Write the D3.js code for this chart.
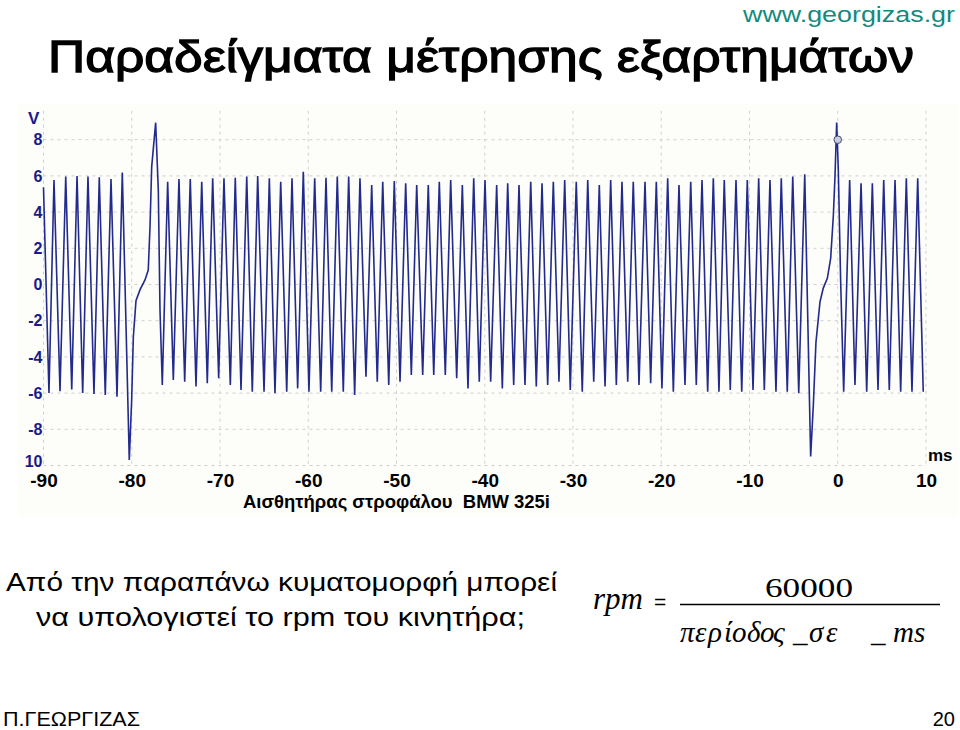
<!DOCTYPE html>
<html>
<head>
<meta charset="utf-8">
<script src="https://cdn.jsdelivr.net/npm/d3@7/dist/d3.min.js"></script>
<style>
  html, body { margin: 0; padding: 0; background: #ffffff; }
  svg { display: block; }
  .sans { font-family: "Liberation Sans", Arial, sans-serif; }
  .serif { font-family: "Liberation Serif", "Times New Roman", serif; }
</style>
</head>
<body>
<svg id="chart" width="960" height="730"></svg>
<script>
// ---------------- DATA ----------------
const xTickValues = [-90, -80, -70, -60, -50, -40, -30, -20, -10, 0, 10];
const xTickLabels = ["-90", "-80", "-70", "-60", "-50", "-40", "-30", "-20", "-10", "0", "10"];
const yTickValues = [8, 6, 4, 2, 0, -2, -4, -6, -8, -10];
const yTickLabels = ["8", "6", "4", "2", "0", "-2", "-4", "-6", "-8", "10"];

// Crankshaft sensor trace: vertices (time in ms, voltage in V)
const traceMs = [
  -90.00, -89.38, -88.81, -88.13, -87.48, -86.80, -86.20, -85.56, -84.96, -84.28,
  -83.68, -83.00, -82.35, -81.67, -81.07, -80.28,
  -80.01, -79.82, -79.52, -79.07, -78.50, -78.13, -77.93, -77.74, -77.29, -76.99, -76.80, -76.54,
  -75.93, -75.29, -74.65, -74.00, -73.37, -72.72, -72.07, -71.44, -70.83, -70.15,
  -69.55, -68.83, -68.27, -67.62, -66.97, -66.34, -65.73, -65.01, -64.41, -63.77,
  -63.12, -62.44, -61.84, -61.20, -60.56, -59.92, -59.27, -58.59, -57.99, -57.34,
  -56.71, -56.03, -55.42, -54.74, -54.14, -53.46, -52.81, -52.18, -51.56, -50.88,
  -50.25, -49.60, -48.96, -48.32, -47.71, -47.03, -46.40, -45.78, -45.15, -44.47,
  -43.86, -43.18, -42.54, -41.90, -41.25, -40.62, -39.97, -39.33, -38.65, -38.01,
  -37.40, -36.72, -36.12, -35.44, -34.79, -34.16, -33.51, -32.87, -32.23, -31.59,
  -30.94, -30.31, -29.63, -28.95, -28.33, -27.65, -27.02, -26.37, -25.73, -25.09,
  -24.45, -23.80, -23.17, -22.52, -21.84, -21.20, -20.56, -19.92, -19.27, -18.63,
  -17.99, -17.31, -16.66, -16.03, -15.38, -14.74, -14.10, -13.46, -12.86, -12.18,
  -11.53, -10.88, -10.25, -9.60, -8.96, -8.32, -7.68, -7.00, -6.40, -5.72,
  -5.10, -4.42, -3.74, -3.07,
  -2.77, -2.47, -2.01, -1.64, -1.18, -0.80, -0.50, -0.31, -0.12, 0.06, 0.33, 0.67,
  1.35, 1.95, 2.64, 3.28, 3.92, 4.56, 5.21, 5.84, 6.49, 7.13, 7.77, 8.41, 9.06, 9.69
];
const traceV = [
  5.37, -6.00, 5.77, -5.90, 5.96, -5.80, 5.99, -6.00, 5.96, -6.05,
  5.92, -6.10, 5.83, -6.20, 6.18, -9.70,
  -6.40, -2.90, -0.90, -0.30, 0.25, 0.80, 3.20, 6.50, 8.94, 5.20, -1.40, -5.55,
  5.68, -5.28, 5.83, -5.37, 5.83, -5.64, 5.68, -5.46, 5.87, -5.18,
  5.87, -5.55, 5.90, -5.83, 5.96, -5.92, 5.99, -5.92, 5.87, -6.01,
  5.68, -5.92, 5.87, -5.74, 6.23, -5.92, 5.87, -5.92, 5.90, -5.92,
  5.96, -5.92, 5.96, -6.10, 5.87, -5.09, 5.50, -5.37, 5.68, -5.55,
  5.72, -5.37, 5.59, -5.00, 5.50, -5.00, 5.50, -5.00, 5.68, -5.00,
  5.77, -5.18, 5.50, -5.74, 5.87, -5.37, 5.77, -5.37, 5.50, -5.74,
  5.59, -5.55, 5.50, -5.55, 5.68, -5.64, 5.59, -5.55, 5.68, -5.37,
  5.77, -5.83, 5.68, -5.92, 5.77, -5.37, 5.50, -5.64, 5.77, -5.55,
  5.68, -5.37, 5.68, -5.55, 5.68, -5.46, 5.68, -5.74, 5.87, -5.92,
  5.50, -5.55, 5.68, -5.55, 5.77, -5.92, 5.87, -5.92, 5.77, -5.83,
  5.77, -5.92, 5.77, -5.83, 5.87, -5.83, 5.77, -5.92, 5.87, -5.92,
  5.96, -6.01, 6.09, -9.50,
  -6.70, -3.20, -0.95, -0.20, 0.34, 1.46, 3.80, 6.00, 8.95, 6.40, 0.15, -5.92,
  5.77, -5.55, 5.59, -5.92, 5.59, -5.83, 5.77, -5.83, 5.77, -5.92, 5.87, -5.92, 5.87, -5.92
];
const cursorMs = [0];
const cursorV = [8];

// ---------------- DRAW ----------------
const svg = d3.select("#chart");

const x = d3.scaleLinear().domain([-90, 10]).range([43.5, 926]);
const y = d3.scaleLinear().domain([-10, 10]).range([465.5, 103.5]);

// Header
svg.append("text").attr("class", "sans")
  .attr("x", 955).attr("y", 22).attr("text-anchor", "end")
  .attr("font-size", 22).attr("fill", "#138a7e")
  .attr("textLength", 212).attr("lengthAdjust", "spacingAndGlyphs")
  .text("www.georgizas.gr");

svg.append("text").attr("class", "sans")
  .attr("x", 48).attr("y", 72)
  .attr("font-size", 45).attr("fill", "#000").attr("stroke", "#000").attr("stroke-width", 1.3)
  .attr("textLength", 866).attr("lengthAdjust", "spacingAndGlyphs")
  .text("Παραδείγματα μέτρησης εξαρτημάτων");

// Plot background (scope screenshot)
svg.append("rect").attr("x", 18).attr("y", 104).attr("width", 940).attr("height", 412)
  .attr("fill", "#fdfdf9");

// Grid
const gridColor = "#cfcfcf";
svg.append("g").selectAll("line.h").data(yTickValues).join("line")
  .attr("x1", x(-90)).attr("x2", x(10))
  .attr("y1", d => y(d)).attr("y2", d => y(d))
  .attr("stroke", gridColor).attr("stroke-width", 1).attr("stroke-dasharray", "3,4");
svg.append("g").selectAll("line.v").data(xTickValues).join("line")
  .attr("x1", d => x(d)).attr("x2", d => x(d))
  .attr("y1", y(9.6)).attr("y2", y(-10))
  .attr("stroke", gridColor).attr("stroke-width", 1).attr("stroke-dasharray", "3,4");

// Y axis
const yAxis = d3.axisLeft(y).tickValues(yTickValues)
  .tickFormat((d, i) => yTickLabels[i]).tickSize(0).tickPadding(1);
const gy = svg.append("g").attr("transform", `translate(${x(-90)},0)`).call(yAxis);
gy.select(".domain").remove();
gy.selectAll("text").attr("class", "sans").attr("font-size", 16).attr("font-weight", "bold")
  .attr("fill", "#1a1a8a");
gy.selectAll("text").filter((d) => d === -10).attr("dy", "0.05em");

// X axis
const xAxis = d3.axisBottom(x).tickValues(xTickValues)
  .tickFormat((d, i) => xTickLabels[i]).tickSize(0).tickPadding(8);
const gx = svg.append("g").attr("transform", `translate(0,${y(-10)})`).call(xAxis);
gx.select(".domain").remove();
gx.selectAll("text").attr("class", "sans").attr("font-size", 19).attr("font-weight", "bold")
  .attr("fill", "#000");

// Axis unit labels
svg.append("text").attr("class", "sans").attr("x", 28).attr("y", 124)
  .attr("font-size", 17).attr("font-weight", "bold").attr("fill", "#1a1a8a").text("V");
svg.append("text").attr("class", "sans").attr("x", 928).attr("y", 461)
  .attr("font-size", 17).attr("font-weight", "bold").attr("fill", "#000").text("ms");

// Trace
const pts = traceMs.map((t, i) => [t, traceV[i]]);
const line = d3.line().x(d => x(d[0])).y(d => y(d[1]));
svg.append("path").datum(pts)
  .attr("d", line).attr("fill", "none")
  .attr("stroke", "#222a8c").attr("stroke-width", 1.6).attr("stroke-linejoin", "miter");

// Cursor marker
svg.append("g").selectAll("circle").data(cursorMs.map((t, i) => [t, cursorV[i]])).join("circle")
  .attr("cx", d => x(d[0])).attr("cy", d => y(d[1])).attr("r", 3.8)
  .attr("fill", "#c9cbe0").attr("stroke", "#4a4c70").attr("stroke-width", 1);

// Subtitle of scope picture
svg.append("text").attr("class", "sans").attr("x", 243).attr("y", 508)
  .attr("font-size", 18).attr("font-weight", "bold").attr("fill", "#000")
  .attr("textLength", 307).attr("lengthAdjust", "spacingAndGlyphs")
  .style("white-space", "pre")
  .text("Αισθητήρας στροφάλου  BMW 325i");

// Question text
svg.append("text").attr("class", "sans").attr("x", 6).attr("y", 591)
  .attr("font-size", 25).attr("fill", "#000")
  .attr("textLength", 551).attr("lengthAdjust", "spacingAndGlyphs")
  .text("Από την παραπάνω κυματομορφή μπορεί");
svg.append("text").attr("class", "sans").attr("x", 36).attr("y", 626)
  .attr("font-size", 25).attr("fill", "#000")
  .attr("textLength", 489).attr("lengthAdjust", "spacingAndGlyphs")
  .text("να υπολογιστεί το rpm του κινητήρα;");

// Formula
svg.append("text").attr("class", "serif").attr("x", 593).attr("y", 609)
  .attr("font-size", 31).attr("font-style", "italic").attr("fill", "#000").text("rpm");
svg.append("text").attr("class", "sans").attr("x", 654).attr("y", 609)
  .attr("font-size", 21).attr("fill", "#000").text("=");
svg.append("text").attr("class", "serif").attr("x", 765).attr("y", 597)
  .attr("font-size", 27).attr("fill", "#000")
  .attr("textLength", 88).attr("lengthAdjust", "spacingAndGlyphs").text("60000");
svg.append("line").attr("x1", 680).attr("x2", 940).attr("y1", 604.5).attr("y2", 604.5)
  .attr("stroke", "#000").attr("stroke-width", 1.6);
const denom = [["π",680],["ε",695],["ρ",708],["ί",724],["ο",732],["δ",747],["ο",760],["ς",773],
               ["_",793],["σ",809],["ε",826],["_",871],["ms",893]];
const dt = svg.append("text").attr("class", "serif").attr("y", 642)
  .attr("font-size", 29).attr("font-style", "italic").attr("fill", "#000");
denom.forEach(([c, px]) => dt.append("tspan").attr("x", px).text(c));

// Footer
svg.append("text").attr("class", "sans").attr("x", 3).attr("y", 726)
  .attr("font-size", 20).attr("fill", "#000")
  .attr("textLength", 137).attr("lengthAdjust", "spacingAndGlyphs").text("Π.ΓΕΩΡΓΙΖΑΣ");
svg.append("text").attr("class", "sans").attr("x", 955).attr("y", 726).attr("text-anchor", "end")
  .attr("font-size", 20).attr("fill", "#000").text("20");
</script>
</body>
</html>
